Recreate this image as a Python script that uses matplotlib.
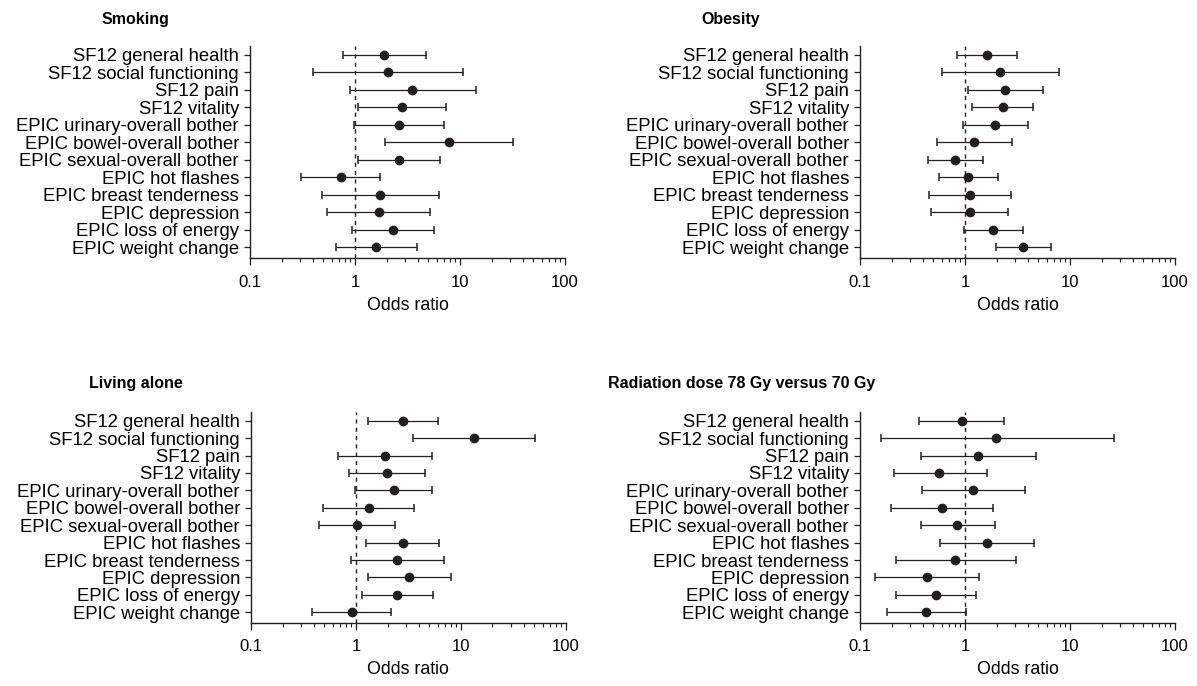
import matplotlib.pyplot as plt
from matplotlib.ticker import LogLocator, NullFormatter, FixedLocator, FixedFormatter

plt.rcParams['font.family'] = ['Liberation Sans', 'DejaVu Sans']

labels = ["SF12 general health", "SF12 social functioning", "SF12 pain", "SF12 vitality",
          "EPIC urinary-overall bother", "EPIC bowel-overall bother", "EPIC sexual-overall bother",
          "EPIC hot flashes", "EPIC breast tenderness", "EPIC depression",
          "EPIC loss of energy", "EPIC weight change"]

# odds ratio, lower CI, upper CI
smoking_or = [1.91, 2.07, 3.5, 2.83, 2.63, 7.85, 2.63, 0.735, 1.75, 1.70, 2.31, 1.60]
smoking_lo = [0.77, 0.40, 0.90, 1.07, 0.97, 1.95, 1.06, 0.307, 0.49, 0.54, 0.94, 0.66]
smoking_hi = [4.77, 10.6, 14.1, 7.4, 7.08, 31.8, 6.4, 1.75, 6.25, 5.2, 5.6, 3.94]

obesity_or = [1.63, 2.17, 2.42, 2.28, 1.93, 1.22, 0.81, 1.08, 1.12, 1.12, 1.86, 3.57]
obesity_lo = [0.84, 0.60, 1.06, 1.17, 0.96, 0.54, 0.44, 0.565, 0.45, 0.47, 0.98, 1.96]
obesity_hi = [3.13, 7.8, 5.57, 4.48, 3.98, 2.80, 1.50, 2.05, 2.74, 2.59, 3.57, 6.54]

alone_or = [2.78, 13.4, 1.89, 1.97, 2.30, 1.33, 1.03, 2.78, 2.46, 3.22, 2.48, 0.92]
alone_lo = [1.30, 3.46, 0.68, 0.86, 0.99, 0.485, 0.44, 1.24, 0.89, 1.29, 1.14, 0.38]
alone_hi = [6.0, 50.7, 5.33, 4.57, 5.33, 3.54, 2.37, 6.12, 6.84, 8.03, 5.41, 2.17]

dose_or = [0.94, 1.99, 1.34, 0.565, 1.20, 0.608, 0.845, 1.62, 0.80, 0.438, 0.526, 0.428]
dose_lo = [0.365, 0.157, 0.38, 0.21, 0.386, 0.196, 0.38, 0.578, 0.219, 0.139, 0.219, 0.18]
dose_hi = [2.35, 26.2, 4.75, 1.61, 3.73, 1.85, 1.92, 4.54, 3.06, 1.37, 1.28, 1.02]

panels = [
    ("Smoking", smoking_or, smoking_lo, smoking_hi, [0.2089, 0.624, 0.263, 0.309], (0.085, 0.972)),
    ("Obesity", obesity_or, obesity_lo, obesity_hi, [0.7185, 0.624, 0.263, 0.309], (0.586, 0.972)),
    ("Living alone", alone_or, alone_lo, alone_hi, [0.2097, 0.0923, 0.263, 0.307], (0.074, 0.441)),
    ("Radiation dose 78 Gy versus 70 Gy", dose_or, dose_lo, dose_hi, [0.7185, 0.0923, 0.263, 0.307], (0.508, 0.441)),
]

fig = plt.figure(figsize=(11.97, 6.86), dpi=100)
dark = "#231f20"

for title, orr, lo, hi, pos, tpos in panels:
    ax = fig.add_axes(pos)
    y = list(range(len(labels)))
    xerr = [[o - l for o, l in zip(orr, lo)], [h - o for o, h in zip(orr, hi)]]
    ax.errorbar(orr, y, xerr=xerr, fmt='o', color=dark, ecolor=dark, elinewidth=0.9,
                capsize=3.2, capthick=1.1, markersize=6, zorder=3)
    ax.axvline(1, color=dark, linestyle=(0, (3, 3)), linewidth=1, zorder=1)
    ax.set_xscale('log')
    ax.set_xlim(0.1, 100)
    ax.set_ylim(11.6, -0.5)
    ax.set_yticks(y)
    ax.set_yticklabels(labels, fontsize=13.3)
    ax.xaxis.set_major_locator(FixedLocator([0.1, 1, 10, 100]))
    ax.xaxis.set_major_formatter(FixedFormatter(["0.1", "1", "10", "100"]))
    ax.xaxis.set_minor_locator(LogLocator(base=10, subs=range(2, 10)))
    ax.xaxis.set_minor_formatter(NullFormatter())
    ax.tick_params(axis='x', which='major', length=5, width=0.9, labelsize=12, pad=7, color=dark)
    ax.tick_params(axis='x', which='minor', length=3, width=0.8, color=dark)
    ax.tick_params(axis='y', length=4, width=0.9, pad=4, color=dark)
    for s in ['top', 'right']:
        ax.spines[s].set_visible(False)
    for s in ['left', 'bottom']:
        ax.spines[s].set_linewidth(1)
        ax.spines[s].set_color(dark)
    ax.set_xlabel("Odds ratio", fontsize=12.8, labelpad=5)
    fig.text(tpos[0], tpos[1], title, fontsize=11.5, fontweight='bold', ha='left', va='center')

fig.savefig("out.png", dpi=100)
